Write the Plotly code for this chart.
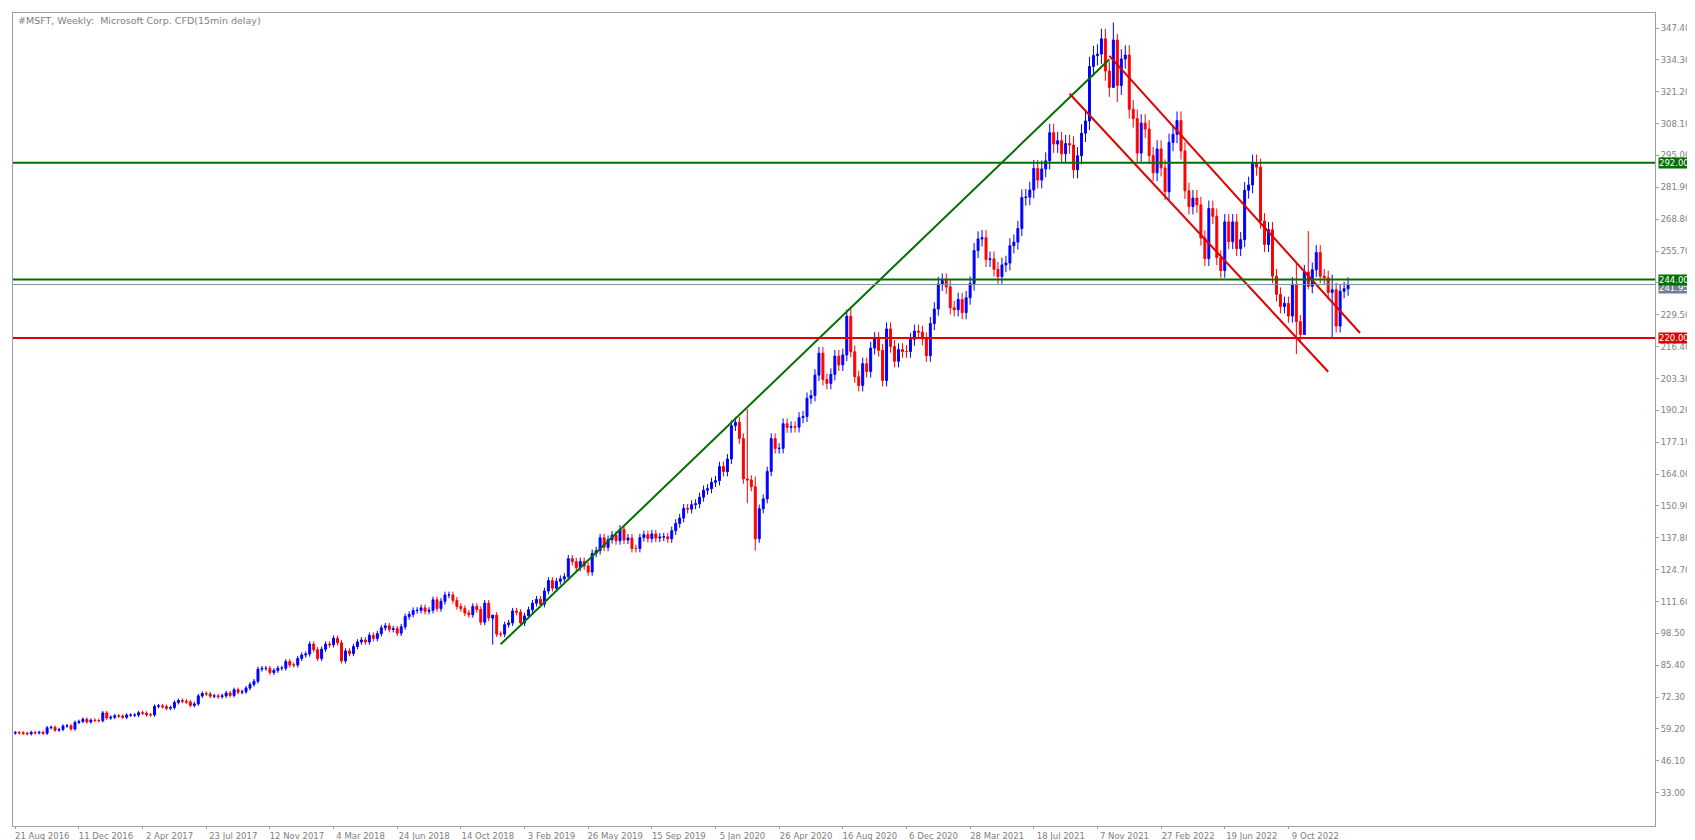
import plotly.graph_objects as go
import pandas as pd

start_date = "2016-08-21"
closes = [
 57.7,57.6, 57.4,57.2,57.8,57.6, 57.8,57.4,59.7,59.9,58.7, 59.0,60.4,60.5,59.2, 61.9,62.3,63.2,62.1,
 62.8,62.7,62.6,65.8,63.7, 64.0,64.6,64.5,64.0, 64.9,64.9,64.9,65.9, 65.7,65.0,65.0,68.5,68.7,
 68.4,67.7,68.0,70.1, 70.9,70.6,70.3,68.9, 69.5,72.8,73.8,73.6,72.7, 72.8,72.5,72.8,74.0,
 73.0,75.3,74.3,74.5, 76.0,77.5,78.8,83.8,84.1, 84.1,82.4,83.3,84.2, 84.2,86.9,85.5,85.5,88.2,
 89.6,90.0,94.1,91.8, 88.2,92.0,94.1,93.8, 96.5,94.6,87.2,91.3, 90.2,93.1,95.0,95.8,95.0,
 97.7,96.4,98.4,100.8, 101.6,100.1,100.4,98.6, 101.2,105.4,106.3,107.9,108.0, 109.0,107.6,108.0,112.3,
 108.7,111.7,114.3,114.3,112.1, 109.6,108.7,106.9,106.2, 109.6,108.3,103.1,110.9, 104.8,106.0,98.2,98.2,102.1,
 102.8,107.7,107.2,102.8, 105.7,108.2,110.9,112.5, 110.5,115.9,120.2,117.1,119.9, 120.9,121.8,129.2,128.0,
 125.5,128.1,126.2,123.7, 131.4,132.5,137.8,133.9,137.1, 138.9,136.6,141.3,136.9, 137.7,133.4,133.4,137.9,
 139.1,137.5,139.4,137.7,138.1, 138.2,137.4,140.7,143.7, 145.9,149.9,149.6,151.4, 151.8,154.5,157.4,158.0,160.6,
 161.3,167.1,165.0,170.2, 183.9,185.3,178.6,162.0, 161.6,158.8,137.4,149.7,153.8, 165.1,178.6,174.5,174.6,
 184.7,183.2,183.5,183.3,187.2, 187.7,195.2,196.3,204.7, 213.7,202.9,201.3,205.0, 212.5,208.9,213.0,228.9,214.3,
 204.0,200.4,209.4,206.2, 215.8,219.7,214.9,202.5, 223.7,216.5,210.4,215.2,214.4, 214.4,219.4,222.8,222.4,
 219.6,212.7,225.9,231.9,242.2, 243.6,241.0,232.4,231.6, 235.8,230.4,236.5,242.4, 255.9,260.7,261.2,252.2,
 252.5,248.2,245.2,250.0,250.8, 257.9,259.4,265.0,277.7, 277.9,280.8,289.7,284.9, 289.5,292.8,304.4,299.7,301.1,
 295.7,299.9,299.3,289.1, 294.9,304.2,309.2,331.6,336.1, 336.7,343.0,329.7,323.0, 342.5,323.8,334.7,336.3,
 314.0,310.2,296.0,308.3,305.9, 295.0,287.9,297.7,289.9, 280.1,300.4,303.7,309.4, 296.9,280.5,274.0,277.5,
 274.7,261.1,252.6,273.2,270.0, 253.0,247.7,267.7,259.6, 267.7,256.7,260.4,280.7,282.9, 291.9,290.2,268.1,258.4,
 264.5,245.4,237.9,232.9, 234.2,229.0,242.1,226.7,221.4, 247.1,241.2,248.0,255.1, 245.4,244.7,238.7,239.8,
 224.9,239.2,240.2,242.0,
]
first_open = 57.5
# notable extremes (week index: (high, low))
extremes = {120: (104.0, 93.9), 184: (190.7, 152.0), 186: (163.0, 132.5), 210: (232.9, 212.0),
            276: (349.7, 326.0), 277: (345.0, 317.0), 322: (251.0, 213.4), 324: (250.0, 229.0),
            325: (263.9, 240.0), 331: (246.0, 220.0)}

level_lines = [292.0, 244.0, 220.0]
level_colors = ["#007000", "#007000", "#e00000"]
last_price = 241.95
tick_dates = ["2016-08-21","2016-12-11","2017-04-02","2017-07-23","2017-11-12","2018-03-04","2018-06-24",
              "2018-10-14","2019-02-03","2019-05-26","2019-09-15","2020-01-05","2020-04-26","2020-08-16",
              "2020-12-06","2021-03-28","2021-07-18","2021-11-07","2022-02-27","2022-06-19","2022-10-09"]
y_ticks = [round(347.4 - 13.1 * k, 2) for k in range(25)]
green_trend = (["2018-12-23", "2021-11-28"], [94.0, 334.6])
red_upper = (["2021-11-28", "2023-02-12"], [336.0, 222.0])
red_lower = (["2021-09-19", "2022-12-18"], [320.4, 206.1])

dates = pd.date_range(start_date, periods=len(closes), freq="7D")
opens = [first_open] + closes[:-1]
highs, lows = [], []
for i, (o, c) in enumerate(zip(opens, closes)):
    if i in extremes:
        h, l = extremes[i]
    else:
        h, l = max(o, c) * 1.012, min(o, c) * 0.988
    highs.append(h); lows.append(l)

fig = go.Figure()
fig.add_trace(go.Candlestick(x=dates, open=opens, high=highs, low=lows, close=closes,
    increasing=dict(line=dict(color="#0000ff", width=1), fillcolor="#0000ff"),
    decreasing=dict(line=dict(color="#ff0000", width=1), fillcolor="#ff0000"),
    whiskerwidth=0, showlegend=False, hoverinfo="skip"))
for (xs, ys), col in [(green_trend, "#007000"), (red_upper, "#e00000"), (red_lower, "#e00000")]:
    fig.add_trace(go.Scatter(x=xs, y=ys, mode="lines", line=dict(color=col, width=2), showlegend=False))

for v, col in zip(level_lines, level_colors):
    fig.add_hline(y=v, line=dict(color=col, width=2))
fig.add_hline(y=last_price, line=dict(color="#8090a0", width=1))

ann = [dict(xref="paper", yref="paper", x=0.002, y=1.0, xanchor="left", yanchor="top", showarrow=False,
            text="#MSFT, Weekly:  Microsoft Corp. CFD(15min delay)", font=dict(size=9.5, color="#808080"))]
ann.append(dict(xref="paper", yref="y", x=1.002, y=last_price - 1.5, xanchor="left", yanchor="middle", showarrow=False,
                text=f"{last_price:.2f}", bgcolor="#708090", font=dict(size=8.5, color="white"), borderpad=0))
for v, col in zip(level_lines, level_colors):
    ann.append(dict(xref="paper", yref="y", x=1.002, y=v, xanchor="left", yanchor="middle", showarrow=False,
                    text=f"{v:.2f}", bgcolor=col, font=dict(size=8.5, color="white"), borderpad=0))

fig.update_layout(
    width=1695, height=840, paper_bgcolor="white", plot_bgcolor="white",
    margin=dict(l=5, r=48, t=5, b=22, autoexpand=False), annotations=ann,
    font=dict(family="DejaVu Sans", size=8.5, color="#808080"),
    xaxis=dict(type="date", rangeslider=dict(visible=False), range=["2016-08-17", "2024-07-15"],
               tickvals=pd.to_datetime(tick_dates), tickangle=0, automargin=False,
               ticktext=[pd.Timestamp(d).strftime("%-d %b %Y") for d in tick_dates],
               ticks="outside", ticklen=2, tickcolor="#a0a0a0", ticklabelshift=27,
               showgrid=False, showline=True, linecolor="#a0a0a0", mirror=True, zeroline=False),
    yaxis=dict(side="right", range=[19.3, 353.6], tickvals=y_ticks, ticktext=[f"{v:.2f}" for v in y_ticks],
               ticks="outside", ticklen=3, tickcolor="#a0a0a0", showgrid=False, showline=True, automargin=False,
               linecolor="#a0a0a0", mirror=True, zeroline=False),
)
fig.write_html("out.html")
